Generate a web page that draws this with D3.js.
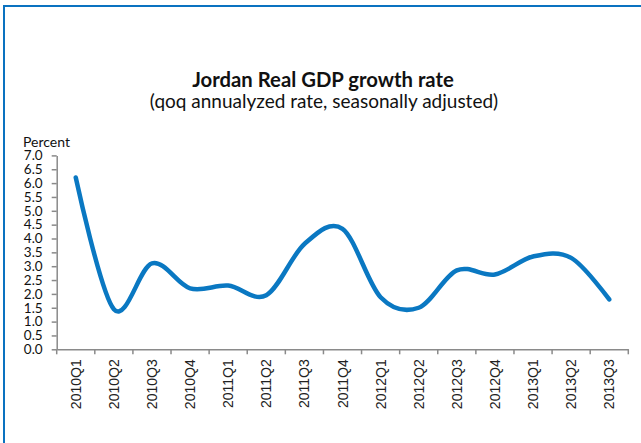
<!DOCTYPE html>
<html>
<head>
<meta charset="utf-8">
<script src="https://cdn.jsdelivr.net/npm/d3@7"></script>
<style>
  html, body { margin: 0; padding: 0; background: #fff; }
  svg { display: block; }
</style>
</head>
<body>
<svg id="chart" width="641" height="443"></svg>
<script>
// Quarterly categories and growth values (percent, qoq annualized, s.a.)
const quarters = ["2010Q1","2010Q2","2010Q3","2010Q4","2011Q1","2011Q2","2011Q3","2011Q4",
                  "2012Q1","2012Q2","2012Q3","2012Q4","2013Q1","2013Q2","2013Q3"];
const growth = [6.2, 1.45, 3.1, 2.2, 2.3, 1.95, 3.8, 4.35, 1.88, 1.5, 2.85, 2.7, 3.35, 3.3, 1.8];
const yTicks = [0,0.5,1,1.5,2,2.5,3,3.5,4,4.5,5,5.5,6,6.5,7];

const titleText = "Jordan Real GDP growth rate";
const subtitleText = "(qoq annualyzed rate, seasonally adjusted)";
const yLabel = "Percent";

const svg = d3.select("#chart");
const frameColor = "#0a72c0";
const lineColor = "#0a78c2";
const axisColor = "#8a8a8a";

// Outer frame (top and left edges visible)
svg.append("line").attr("x1", 3).attr("x2", 641).attr("y1", 6).attr("y2", 6)
  .attr("stroke", frameColor).attr("stroke-width", 2);
svg.append("line").attr("x1", 4).attr("x2", 4).attr("y1", 5).attr("y2", 443)
  .attr("stroke", frameColor).attr("stroke-width", 2);

// Titles
svg.append("text").attr("x", 323).attr("y", 87).attr("text-anchor", "middle")
  .style("font-family", "Lato, 'Open Sans', sans-serif").style("font-weight", "bold")
  .style("font-size", "20.3px").attr("fill", "#111").text(titleText);
svg.append("text").attr("x", 324).attr("y", 108).attr("text-anchor", "middle")
  .style("font-family", "Lato, 'Open Sans', sans-serif")
  .style("font-size", "19px").attr("fill", "#111").text(subtitleText);

// Scales
const x = d3.scaleBand().domain(quarters).range([56.7, 628.3]);
const y = d3.scaleLinear().domain([0, 7]).range([349.3, 155.4]);

// Y axis
const yAxis = svg.append("g").attr("transform", "translate(56.7,0)")
  .call(d3.axisLeft(y).tickValues(yTicks).tickFormat(d3.format(".1f"))
    .tickSize(5).tickSizeOuter(0).tickPadding(9));
yAxis.select(".domain").attr("stroke", axisColor).attr("stroke-width", 1.5);
yAxis.selectAll(".tick line").attr("stroke", axisColor).attr("stroke-width", 1.5);
yAxis.selectAll(".tick text").attr("fill", "#111")
  .style("font-family", "Lato, 'Open Sans', sans-serif").style("font-size", "13.5px");

svg.append("text").attr("x", 23).attr("y", 147)
  .style("font-family", "Lato, 'Open Sans', sans-serif").style("font-size", "14px")
  .attr("fill", "#111").text(yLabel);

// X axis: labels at band centres, ticks at band boundaries
const xAxis = svg.append("g").attr("transform", `translate(0,${y(0)})`)
  .call(d3.axisBottom(x).tickSize(0).tickSizeOuter(0));
xAxis.select(".domain").attr("stroke", axisColor).attr("stroke-width", 1.5);
xAxis.selectAll(".tick text")
  .attr("transform", "rotate(-90)")
  .attr("text-anchor", "end")
  .attr("x", -10).attr("y", 0).attr("dy", "0.36em")
  .attr("fill", "#222")
  .style("font-family", "'Liberation Sans', Arial, sans-serif").style("font-size", "14px");

const boundaries = quarters.map(q => x(q)).concat([x.range()[1]]);
svg.append("g").selectAll("line").data(boundaries).join("line")
  .attr("x1", d => d).attr("x2", d => d)
  .attr("y1", y(0)).attr("y2", y(0) + 5)
  .attr("stroke", axisColor).attr("stroke-width", 1.5);

// Smoothed growth line
const line = d3.line()
  .x((d, i) => x(quarters[i]) + x.bandwidth() / 2)
  .y(d => y(d))
  .curve(d3.curveCardinal.tension(0));

svg.append("path").datum(growth)
  .attr("d", line)
  .attr("fill", "none")
  .attr("stroke", lineColor)
  .attr("stroke-width", 4.5)
  .attr("stroke-linecap", "round")
  .attr("stroke-linejoin", "round");
</script>
</body>
</html>
